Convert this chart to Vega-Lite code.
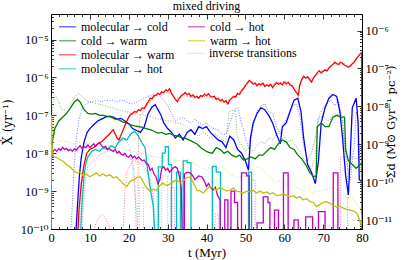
{
"$schema": "https://vega.github.io/schema/vega-lite/v6.json",
"width": 311, "height": 215,
"autosize": {"type": "none"},
"padding": {"left": 51, "top": 14, "right": 53, "bottom": 31},
"title": {"text": "mixed driving", "fontSize": 12, "fontWeight": "normal", "color": "#000", "offset": 1, "anchor": "middle", "font": "Liberation Serif"},
"config": {
 "view": {"stroke": "#000", "strokeWidth": 1},
 "font": "Liberation Serif",
 "axis": {"grid": false, "domain": false, "labelFont": "Liberation Serif, DejaVu Serif", "labelFontSize": 12.5, "labelColor": "#000", "tickColor": "#000", "tickWidth": 0.8, "titleFont": "Liberation Serif, DejaVu Serif", "titleFontSize": 13, "titleFontWeight": "normal", "titleColor": "#000", "labelFlush": false, "labelOverlap": false},
 "legend": {"labelFont": "Liberation Serif, DejaVu Serif", "labelFontSize": 12, "labelColor": "#000", "padding": 0}
},
"datasets": {
"fwdA": [
{"s":"mc","t":6.3,"v":5e-11},{"s":"mc","t":6.8,"v":3.98e-10},{"s":"mc","t":7.3,"v":2.51e-9},{"s":"mc","t":7.8,"v":7.94e-9},{"s":"mc","t":8.5,"v":2.0e-8},{"s":"mc","t":9.3,"v":3.55e-8},{"s":"mc","t":10,"v":4.47e-8},{"s":"mc","t":11,"v":5.62e-8},{"s":"mc","t":12,"v":7.08e-8},{"s":"mc","t":13,"v":7.94e-8},{"s":"mc","t":14,"v":8.91e-8},{"s":"mc","t":15,"v":9.55e-8},{"s":"mc","t":16,"v":8.91e-8},{"s":"mc","t":17,"v":7.94e-8},{"s":"mc","t":18,"v":8.32e-8},{"s":"mc","t":19,"v":7.08e-8},{"s":"mc","t":20,"v":6.03e-8},{"s":"mc","t":21,"v":4.47e-8},{"s":"mc","t":22,"v":3.98e-8},{"s":"mc","t":23,"v":3.55e-8},{"s":"mc","t":24,"v":5.01e-8},{"s":"mc","t":25,"v":1.12e-7},{"s":"mc","t":26,"v":1.66e-7},{"s":"mc","t":26.8,"v":1.91e-7},{"s":"mc","t":27.5,"v":1.41e-7},{"s":"mc","t":28.3,"v":1.0e-7},{"s":"mc","t":29,"v":6.31e-8},{"s":"mc","t":30,"v":4.47e-8},{"s":"mc","t":31,"v":3.55e-8},{"s":"mc","t":32,"v":2.51e-8},{"s":"mc","t":33,"v":3.16e-8},{"s":"mc","t":34,"v":2.24e-8},{"s":"mc","t":35,"v":3.55e-8},{"s":"mc","t":36,"v":4.17e-8},{"s":"mc","t":37,"v":3.16e-8},{"s":"mc","t":38,"v":5.01e-8},{"s":"mc","t":39,"v":4.47e-8},{"s":"mc","t":40,"v":5.01e-8},{"s":"mc","t":41,"v":3.55e-8},{"s":"mc","t":42,"v":2.82e-8},{"s":"mc","t":43,"v":2.24e-8},{"s":"mc","t":44,"v":2.0e-8},{"s":"mc","t":45,"v":1.41e-8},{"s":"mc","t":46,"v":2.82e-8},{"s":"mc","t":47,"v":2.24e-8},{"s":"mc","t":48,"v":1.26e-8},{"s":"mc","t":49,"v":1.0e-8},{"s":"mc","t":50,"v":6.31e-9},{"s":"mc","t":50.8,"v":3.55e-9},{"s":"mc","t":51.3,"v":2.51e-8},{"s":"mc","t":52,"v":6.31e-8},{"s":"mc","t":53,"v":1.12e-7},{"s":"mc","t":54,"v":1.58e-7},{"s":"mc","t":55,"v":1.41e-7},{"s":"mc","t":56,"v":1.0e-7},{"s":"mc","t":57,"v":6.31e-8},{"s":"mc","t":58,"v":3.16e-8},{"s":"mc","t":59,"v":1.78e-8},{"s":"mc","t":59.5,"v":5.01e-8},{"s":"mc","t":60.5,"v":6.31e-8},{"s":"mc","t":61.5,"v":1.26e-7},{"s":"mc","t":62.5,"v":2.51e-7},{"s":"mc","t":63.5,"v":2.82e-7},{"s":"mc","t":64.3,"v":1.26e-7},{"s":"mc","t":65,"v":2.51e-8},{"s":"mc","t":66,"v":5.01e-9},{"s":"mc","t":67,"v":3.16e-9},{"s":"mc","t":68,"v":1.58e-9},{"s":"mc","t":68.8,"v":6.31e-9},{"s":"mc","t":69.5,"v":6.31e-8},{"s":"mc","t":70.5,"v":1.58e-7},{"s":"mc","t":71.5,"v":2.82e-7},{"s":"mc","t":72.5,"v":3.55e-7},{"s":"mc","t":73.5,"v":3.16e-7},{"s":"mc","t":74.3,"v":1.26e-7},{"s":"mc","t":75,"v":2.51e-8},{"s":"mc","t":75.8,"v":2.51e-9},{"s":"mc","t":76.5,"v":7.94e-10},{"s":"mc","t":77,"v":1.0e-8},{"s":"mc","t":77.5,"v":1.58e-7},{"s":"mc","t":78.5,"v":2.82e-7},{"s":"mc","t":79,"v":6.31e-8},{"s":"mc","t":79.3,"v":2.0e-9},{"s":"mc","t":80,"v":1.78e-9},
{"s":"cw","t":0,"v":8.91e-9},{"s":"cw","t":0.5,"v":2.51e-8},{"s":"cw","t":1,"v":4.47e-8},{"s":"cw","t":2,"v":7.08e-8},{"s":"cw","t":3,"v":8.91e-8},{"s":"cw","t":4,"v":1.12e-7},{"s":"cw","t":5,"v":1.58e-7},{"s":"cw","t":6,"v":2.24e-7},{"s":"cw","t":6.8,"v":2.63e-7},{"s":"cw","t":7.5,"v":2.24e-7},{"s":"cw","t":8.5,"v":1.41e-7},{"s":"cw","t":9.5,"v":1.12e-7},{"s":"cw","t":10.5,"v":1.07e-7},{"s":"cw","t":11.5,"v":1.12e-7},{"s":"cw","t":12.5,"v":1.0e-7},{"s":"cw","t":13.5,"v":1.0e-7},{"s":"cw","t":14.5,"v":9.33e-8},{"s":"cw","t":15.5,"v":8.91e-8},{"s":"cw","t":16.5,"v":7.94e-8},{"s":"cw","t":17.5,"v":7.59e-8},{"s":"cw","t":18.5,"v":6.61e-8},{"s":"cw","t":19.5,"v":6.31e-8},{"s":"cw","t":20.5,"v":5.62e-8},{"s":"cw","t":21.5,"v":5.25e-8},{"s":"cw","t":22.5,"v":5.01e-8},{"s":"cw","t":23.5,"v":4.79e-8},{"s":"cw","t":24.5,"v":4.47e-8},{"s":"cw","t":25.5,"v":4.17e-8},{"s":"cw","t":26.5,"v":3.8e-8},{"s":"cw","t":27.5,"v":3.39e-8},{"s":"cw","t":28.5,"v":3.55e-8},{"s":"cw","t":29.5,"v":3.16e-8},{"s":"cw","t":30.5,"v":3.31e-8},{"s":"cw","t":31.5,"v":3.02e-8},{"s":"cw","t":32.5,"v":2.82e-8},{"s":"cw","t":33.5,"v":2.63e-8},{"s":"cw","t":34.5,"v":2.51e-8},{"s":"cw","t":35.5,"v":2.24e-8},{"s":"cw","t":36.5,"v":2.0e-8},{"s":"cw","t":37.5,"v":1.78e-8},{"s":"cw","t":38.5,"v":1.41e-8},{"s":"cw","t":39.5,"v":1.2e-8},{"s":"cw","t":40.5,"v":1.05e-8},{"s":"cw","t":41.5,"v":1.0e-8},{"s":"cw","t":42.5,"v":1.41e-8},{"s":"cw","t":43.5,"v":1.26e-8},{"s":"cw","t":44.5,"v":1.0e-8},{"s":"cw","t":45.5,"v":1.12e-8},{"s":"cw","t":46.5,"v":8.91e-9},{"s":"cw","t":47.5,"v":7.94e-9},{"s":"cw","t":48.5,"v":8.91e-9},{"s":"cw","t":49.5,"v":6.61e-9},{"s":"cw","t":50.5,"v":7.08e-9},{"s":"cw","t":51.5,"v":7.94e-9},{"s":"cw","t":52.5,"v":7.08e-9},{"s":"cw","t":53.5,"v":8.91e-9},{"s":"cw","t":54.5,"v":8.91e-9},{"s":"cw","t":55.5,"v":1.12e-8},{"s":"cw","t":56.5,"v":1.41e-8},{"s":"cw","t":57.5,"v":1.26e-8},{"s":"cw","t":58.5,"v":1.78e-8},{"s":"cw","t":59.5,"v":2.24e-8},{"s":"cw","t":60.5,"v":2.0e-8},{"s":"cw","t":61.5,"v":1.41e-8},{"s":"cw","t":62.5,"v":1.26e-8},{"s":"cw","t":63.5,"v":8.91e-9},{"s":"cw","t":64.5,"v":7.08e-9},{"s":"cw","t":65.5,"v":5.01e-9},{"s":"cw","t":66.5,"v":3.16e-9},{"s":"cw","t":67.5,"v":2.4e-9},{"s":"cw","t":68.2,"v":2.51e-9},{"s":"cw","t":68.5,"v":5.01e-8},{"s":"cw","t":69.5,"v":6.31e-8},{"s":"cw","t":70.5,"v":5.01e-8},{"s":"cw","t":71.5,"v":5.01e-8},{"s":"cw","t":72.5,"v":8.91e-8},{"s":"cw","t":73.5,"v":1.0e-7},{"s":"cw","t":74.5,"v":8.91e-8},{"s":"cw","t":75.5,"v":8.91e-8},{"s":"cw","t":75.8,"v":1.26e-8},{"s":"cw","t":76.5,"v":6.31e-9},{"s":"cw","t":77.5,"v":5.01e-9},{"s":"cw","t":78.5,"v":3.98e-9},{"s":"cw","t":79.5,"v":5.01e-9},{"s":"cw","t":80,"v":5.62e-9},
{"s":"mw","t":6.8,"v":5e-11},{"s":"mw","t":7.2,"v":3.16e-10},{"s":"mw","t":7.8,"v":1.58e-9},{"s":"mw","t":8.5,"v":5.01e-9},{"s":"mw","t":9.2,"v":1.0e-8},{"s":"mw","t":10,"v":1.26e-8},{"s":"mw","t":11,"v":1.41e-8},{"s":"mw","t":12,"v":1.78e-8},{"s":"mw","t":13,"v":2.0e-8},{"s":"mw","t":14,"v":2.51e-8},{"s":"mw","t":15,"v":3.16e-8},{"s":"mw","t":16,"v":4.17e-8},{"s":"mw","t":17,"v":2.51e-8},{"s":"mw","t":17.5,"v":2.24e-8},{"s":"mw","t":18.5,"v":3.98e-8},{"s":"mw","t":19.5,"v":7.08e-8},
{"s":"mw","t":20,"v":8.91e-8},{"s":"mw","t":20.5,"v":1.05e-7},{"s":"mw","t":21,"v":1.12e-7},{"s":"mw","t":21.5,"v":1.26e-7},{"s":"mw","t":22,"v":1.2e-7},{"s":"mw","t":22.5,"v":1.41e-7},{"s":"mw","t":23,"v":1.32e-7},{"s":"mw","t":23.5,"v":1.58e-7},{"s":"mw","t":24,"v":1.51e-7},{"s":"mw","t":24.5,"v":1.91e-7},{"s":"mw","t":25,"v":2.24e-7},{"s":"mw","t":25.5,"v":2.82e-7},{"s":"mw","t":26,"v":2.75e-7},{"s":"mw","t":26.5,"v":3.31e-7},{"s":"mw","t":27,"v":3.39e-7},{"s":"mw","t":27.5,"v":3.8e-7},{"s":"mw","t":28,"v":3.55e-7},{"s":"mw","t":28.5,"v":4.17e-7},{"s":"mw","t":29,"v":3.98e-7},{"s":"mw","t":29.5,"v":4.68e-7},{"s":"mw","t":30,"v":4.37e-7},{"s":"mw","t":30.5,"v":5.01e-7},{"s":"mw","t":31,"v":3.8e-7},{"s":"mw","t":31.5,"v":3.16e-7},{"s":"mw","t":32,"v":2.63e-7},{"s":"mw","t":32.5,"v":2.29e-7},{"s":"mw","t":33,"v":2.82e-7},{"s":"mw","t":33.5,"v":3.31e-7},{"s":"mw","t":34,"v":3.55e-7},{"s":"mw","t":34.5,"v":3.98e-7},{"s":"mw","t":35,"v":3.47e-7},{"s":"mw","t":35.5,"v":3.8e-7},{"s":"mw","t":36,"v":3.16e-7},{"s":"mw","t":36.5,"v":3.47e-7},{"s":"mw","t":37,"v":2.95e-7},{"s":"mw","t":37.5,"v":3.16e-7},{"s":"mw","t":38,"v":2.82e-7},{"s":"mw","t":38.5,"v":3.31e-7},{"s":"mw","t":39,"v":3.16e-7},{"s":"mw","t":39.5,"v":3.63e-7},{"s":"mw","t":40,"v":3.31e-7},{"s":"mw","t":40.5,"v":3.72e-7},{"s":"mw","t":41,"v":3.16e-7},{"s":"mw","t":41.5,"v":3.02e-7},{"s":"mw","t":42,"v":3.16e-7},{"s":"mw","t":42.5,"v":2.63e-7},{"s":"mw","t":43,"v":2.82e-7},{"s":"mw","t":43.5,"v":2.4e-7},{"s":"mw","t":44,"v":2.63e-7},{"s":"mw","t":44.5,"v":2.24e-7},{"s":"mw","t":45,"v":2.4e-7},{"s":"mw","t":45.5,"v":2.0e-7},{"s":"mw","t":46,"v":2.51e-7},{"s":"mw","t":46.5,"v":2.82e-7},{"s":"mw","t":47,"v":3.16e-7},{"s":"mw","t":47.5,"v":3.02e-7},{"s":"mw","t":48,"v":3.8e-7},{"s":"mw","t":48.5,"v":3.55e-7},{"s":"mw","t":49,"v":4.47e-7},{"s":"mw","t":49.5,"v":5.01e-7},{"s":"mw","t":50,"v":6.03e-7},{"s":"mw","t":50.5,"v":7.08e-7},{"s":"mw","t":51,"v":8.32e-7},{"s":"mw","t":51.5,"v":7.59e-7},{"s":"mw","t":52,"v":6.61e-7},{"s":"mw","t":52.5,"v":7.08e-7},{"s":"mw","t":53,"v":6.03e-7},{"s":"mw","t":53.5,"v":6.76e-7},{"s":"mw","t":54,"v":6.31e-7},{"s":"mw","t":54.5,"v":7.08e-7},{"s":"mw","t":55,"v":5.75e-7},{"s":"mw","t":55.5,"v":6.31e-7},{"s":"mw","t":56,"v":5.89e-7},{"s":"mw","t":56.5,"v":6.61e-7},{"s":"mw","t":57,"v":5.37e-7},{"s":"mw","t":57.5,"v":6.31e-7},{"s":"mw","t":58,"v":7.24e-7},{"s":"mw","t":58.5,"v":6.61e-7},{"s":"mw","t":59,"v":7.08e-7},{"s":"mw","t":59.5,"v":6.31e-7},{"s":"mw","t":60,"v":7.59e-7},{"s":"mw","t":60.5,"v":6.76e-7},{"s":"mw","t":61,"v":7.41e-7},{"s":"mw","t":61.5,"v":6.31e-7},{"s":"mw","t":62,"v":6.03e-7},{"s":"mw","t":62.5,"v":5.01e-7},{"s":"mw","t":63,"v":4.17e-7},{"s":"mw","t":63.6,"v":3.39e-7},{"s":"mw","t":64,"v":6.31e-7},{"s":"mw","t":64.5,"v":8.91e-7},{"s":"mw","t":65,"v":1.07e-6},{"s":"mw","t":65.5,"v":9.55e-7},{"s":"mw","t":66,"v":1.05e-6},{"s":"mw","t":66.5,"v":8.91e-7},{"s":"mw","t":67,"v":7.59e-7},{"s":"mw","t":67.5,"v":9.55e-7},{"s":"mw","t":68,"v":1.12e-6},{"s":"mw","t":68.5,"v":1.32e-6},{"s":"mw","t":69,"v":1.51e-6},{"s":"mw","t":69.5,"v":1.32e-6},{"s":"mw","t":70,"v":1.45e-6},{"s":"mw","t":70.5,"v":1.58e-6},{"s":"mw","t":71,"v":1.48e-6},{"s":"mw","t":71.5,"v":1.78e-6},{"s":"mw","t":72,"v":2.0e-6},{"s":"mw","t":72.5,"v":2.19e-6},{"s":"mw","t":73,"v":2.51e-6},{"s":"mw","t":73.5,"v":2.29e-6},{"s":"mw","t":74,"v":2.19e-6},{"s":"mw","t":74.5,"v":2.51e-6},{"s":"mw","t":75,"v":2.34e-6},{"s":"mw","t":75.5,"v":2.09e-6},{"s":"mw","t":76,"v":2.0e-6},{"s":"mw","t":76.5,"v":1.86e-6},{"s":"mw","t":77,"v":2.0e-6},{"s":"mw","t":77.5,"v":2.29e-6},{"s":"mw","t":78,"v":2.51e-6},{"s":"mw","t":78.5,"v":3.02e-6},{"s":"mw","t":79,"v":3.55e-6},{"s":"mw","t":79.5,"v":4.17e-6},{"s":"mw","t":79.9,"v":4.47e-6},{"s":"mw","t":80,"v":3.16e-11},
{"s":"mh","g":1,"t":7.5,"v":5e-11},{"s":"mh","g":1,"t":8,"v":5.01e-10},{"s":"mh","g":1,"t":8.5,"v":2.51e-9},{"s":"mh","g":1,"t":9,"v":5.62e-9},{"s":"mh","g":1,"t":9.5,"v":7.94e-9},{"s":"mh","g":1,"t":10.5,"v":1.12e-8},{"s":"mh","g":1,"t":11.5,"v":1.26e-8},{"s":"mh","g":1,"t":12.5,"v":1.12e-8},{"s":"mh","g":1,"t":13.5,"v":1.41e-8},{"s":"mh","g":1,"t":14.5,"v":1.26e-8},{"s":"mh","g":1,"t":15.5,"v":1.58e-8},{"s":"mh","g":1,"t":16.5,"v":1.41e-8},{"s":"mh","g":1,"t":17.5,"v":2.0e-8},{"s":"mh","g":1,"t":18.5,"v":2.51e-8},{"s":"mh","g":1,"t":19.5,"v":2.24e-8},{"s":"mh","g":1,"t":20.5,"v":3.16e-8},{"s":"mh","g":1,"t":21.5,"v":3.8e-8},{"s":"mh","g":1,"t":22.5,"v":2.82e-8},{"s":"mh","g":1,"t":23.5,"v":1.78e-8},{"s":"mh","g":1,"t":24.2,"v":1.41e-8},{"s":"mh","g":1,"t":24.8,"v":3.98e-9},{"s":"mh","g":1,"t":25.5,"v":1.26e-9},{"s":"mh","g":1,"t":26.3,"v":3.98e-10},{"s":"mh","g":1,"t":26.8,"v":5e-11},
{"s":"mh","g":2,"t":27.6,"v":5e-11},{"s":"mh","g":2,"t":27.6,"v":4.37e-9},{"s":"mh","g":2,"t":28.6,"v":4.37e-9},{"s":"mh","g":2,"t":28.6,"v":1.0e-8},{"s":"mh","g":2,"t":29.4,"v":1.0e-8},{"s":"mh","g":2,"t":29.4,"v":1.48e-8},{"s":"mh","g":2,"t":30.2,"v":1.48e-8},{"s":"mh","g":2,"t":30.2,"v":5.01e-9},{"s":"mh","g":2,"t":31,"v":5.01e-9},{"s":"mh","g":2,"t":31,"v":5e-11},
{"s":"mh","g":3,"t":32.3,"v":5e-11},{"s":"mh","g":3,"t":32.3,"v":3.16e-9},{"s":"mh","g":3,"t":33.3,"v":3.16e-9},{"s":"mh","g":3,"t":33.3,"v":5e-11},
{"s":"mh","g":4,"t":34,"v":5e-11},{"s":"mh","g":4,"t":34,"v":6.31e-9},{"s":"mh","g":4,"t":35,"v":6.31e-9},{"s":"mh","g":4,"t":35,"v":5.62e-9},{"s":"mh","g":4,"t":36,"v":5.62e-9},{"s":"mh","g":4,"t":36,"v":5e-11},
{"s":"mh","g":5,"t":41.5,"v":5e-11},{"s":"mh","g":5,"t":41.5,"v":4.47e-9},{"s":"mh","g":5,"t":42.5,"v":4.47e-9},{"s":"mh","g":5,"t":42.5,"v":3.16e-9},{"s":"mh","g":5,"t":43.6,"v":3.16e-9},{"s":"mh","g":5,"t":43.6,"v":5e-11},
{"s":"mh","g":6,"t":50.8,"v":5e-11},{"s":"mh","g":6,"t":50.8,"v":3.16e-9},{"s":"mh","g":6,"t":51.6,"v":3.16e-9},{"s":"mh","g":6,"t":51.6,"v":5e-11}
],
"fwdB": [
{"s":"ch","g":1,"t":0,"v":6.31e-9},{"s":"ch","g":1,"t":0.5,"v":1.12e-8},{"s":"ch","g":1,"t":1,"v":1.26e-8},{"s":"ch","g":1,"t":1.5,"v":1.12e-8},{"s":"ch","g":1,"t":2,"v":1.32e-8},{"s":"ch","g":1,"t":2.5,"v":1.2e-8},{"s":"ch","g":1,"t":3,"v":1.41e-8},{"s":"ch","g":1,"t":3.5,"v":1.26e-8},{"s":"ch","g":1,"t":4,"v":1.35e-8},{"s":"ch","g":1,"t":4.5,"v":1.17e-8},{"s":"ch","g":1,"t":5,"v":1.26e-8},{"s":"ch","g":1,"t":5.5,"v":1.12e-8},{"s":"ch","g":1,"t":6,"v":1.32e-8},{"s":"ch","g":1,"t":6.5,"v":1.2e-8},{"s":"ch","g":1,"t":7,"v":1.41e-8},{"s":"ch","g":1,"t":7.5,"v":1.58e-8},{"s":"ch","g":1,"t":8,"v":1.32e-8},{"s":"ch","g":1,"t":8.5,"v":1.51e-8},{"s":"ch","g":1,"t":9,"v":1.41e-8},{"s":"ch","g":1,"t":9.5,"v":1.66e-8},{"s":"ch","g":1,"t":10,"v":1.41e-8},{"s":"ch","g":1,"t":10.5,"v":1.58e-8},{"s":"ch","g":1,"t":11,"v":1.78e-8},{"s":"ch","g":1,"t":11.5,"v":1.51e-8},{"s":"ch","g":1,"t":12,"v":1.74e-8},{"s":"ch","g":1,"t":12.5,"v":1.91e-8},{"s":"ch","g":1,"t":13,"v":1.58e-8},{"s":"ch","g":1,"t":13.5,"v":1.41e-8},{"s":"ch","g":1,"t":14,"v":1.51e-8},{"s":"ch","g":1,"t":14.5,"v":1.26e-8},{"s":"ch","g":1,"t":15,"v":1.32e-8},{"s":"ch","g":1,"t":15.5,"v":1.2e-8},{"s":"ch","g":1,"t":16,"v":1.12e-8},{"s":"ch","g":1,"t":16.5,"v":1.26e-8},{"s":"ch","g":1,"t":17,"v":1.0e-8},{"s":"ch","g":1,"t":17.5,"v":1.12e-8},{"s":"ch","g":1,"t":18,"v":9.55e-9},{"s":"ch","g":1,"t":18.5,"v":8.91e-9},{"s":"ch","g":1,"t":19,"v":1.0e-8},{"s":"ch","g":1,"t":19.5,"v":8.32e-9},{"s":"ch","g":1,"t":20,"v":7.94e-9},{"s":"ch","g":1,"t":20.5,"v":8.91e-9},{"s":"ch","g":1,"t":21,"v":7.59e-9},{"s":"ch","g":1,"t":21.5,"v":8.32e-9},{"s":"ch","g":1,"t":22,"v":7.08e-9},{"s":"ch","g":1,"t":22.5,"v":7.94e-9},{"s":"ch","g":1,"t":23,"v":7.08e-9},{"s":"ch","g":1,"t":23.5,"v":6.31e-9},{"s":"ch","g":1,"t":24,"v":6.61e-9},{"s":"ch","g":1,"t":24.5,"v":5.25e-9},{"s":"ch","g":1,"t":25,"v":5.01e-9},{"s":"ch","g":1,"t":25.5,"v":3.55e-9},{"s":"ch","g":1,"t":26,"v":3.98e-9},{"s":"ch","g":1,"t":26.5,"v":2.82e-9},{"s":"ch","g":1,"t":27,"v":2.4e-9},{"s":"ch","g":1,"t":27.5,"v":1.58e-9},{"s":"ch","g":1,"t":28,"v":2.0e-9},{"s":"ch","g":1,"t":28.5,"v":3.98e-9},{"s":"ch","g":1,"t":29,"v":4.37e-9},{"s":"ch","g":1,"t":29.5,"v":3.55e-9},{"s":"ch","g":1,"t":30,"v":3.98e-9},{"s":"ch","g":1,"t":30.5,"v":3.16e-9},{"s":"ch","g":1,"t":31,"v":3.55e-9},{"s":"ch","g":1,"t":31.5,"v":4.17e-9},{"s":"ch","g":1,"t":32,"v":4.37e-9},{"s":"ch","g":1,"t":32.5,"v":3.98e-9},{"s":"ch","g":1,"t":33,"v":2.51e-9},{"s":"ch","g":1,"t":33.5,"v":1.26e-9},{"s":"ch","g":1,"t":33.8,"v":5e-11},
{"s":"ch","g":2,"t":34.3,"v":5e-11},{"s":"ch","g":2,"t":34.3,"v":2.82e-9},{"s":"ch","g":2,"t":35,"v":3.16e-9},{"s":"ch","g":2,"t":35.8,"v":3.02e-9},{"s":"ch","g":2,"t":36.5,"v":2.51e-9},{"s":"ch","g":2,"t":37,"v":2.0e-9},{"s":"ch","g":2,"t":37.5,"v":2.24e-9},{"s":"ch","g":2,"t":38,"v":2.51e-9},{"s":"ch","g":2,"t":38.8,"v":2.4e-9},{"s":"ch","g":2,"t":39.5,"v":1.78e-9},{"s":"ch","g":2,"t":40,"v":1.32e-9},{"s":"ch","g":2,"t":40.5,"v":1.58e-9},{"s":"ch","g":2,"t":41,"v":1.26e-9},{"s":"ch","g":2,"t":41.7,"v":1.07e-9},{"s":"ch","g":2,"t":42.3,"v":1.26e-9},{"s":"ch","g":2,"t":42.8,"v":7.94e-10},{"s":"ch","g":2,"t":43.5,"v":5.89e-10},{"s":"ch","g":2,"t":43.5,"v":5e-11},
{"s":"ch","g":3,"t":44.7,"v":5e-11},{"s":"ch","g":3,"t":44.7,"v":5.89e-10},{"s":"ch","g":3,"t":45.5,"v":5.89e-10},{"s":"ch","g":3,"t":45.5,"v":5e-11},
{"s":"ch","g":4,"t":46.3,"v":5e-11},{"s":"ch","g":4,"t":46.3,"v":1.0e-9},{"s":"ch","g":4,"t":47.2,"v":1.0e-9},{"s":"ch","g":4,"t":47.2,"v":5.01e-10},{"s":"ch","g":4,"t":48,"v":5.01e-10},{"s":"ch","g":4,"t":48,"v":5e-11},
{"s":"ch","g":5,"t":49,"v":5e-11},{"s":"ch","g":5,"t":49,"v":3.02e-9},{"s":"ch","g":5,"t":50.3,"v":3.02e-9},{"s":"ch","g":5,"t":50.3,"v":2.51e-9},{"s":"ch","g":5,"t":51,"v":2.51e-9},{"s":"ch","g":5,"t":51,"v":5e-11},
{"s":"ch","g":6,"t":53,"v":5e-11},{"s":"ch","g":6,"t":53,"v":1.45e-10},{"s":"ch","g":6,"t":54.6,"v":1.45e-10},{"s":"ch","g":6,"t":54.6,"v":7.08e-10},{"s":"ch","g":6,"t":55.8,"v":7.08e-10},{"s":"ch","g":6,"t":55.8,"v":5.01e-10},{"s":"ch","g":6,"t":56.3,"v":5.01e-10},{"s":"ch","g":6,"t":56.3,"v":5e-11},
{"s":"ch","g":7,"t":57.5,"v":5e-11},{"s":"ch","g":7,"t":57.5,"v":3.16e-10},{"s":"ch","g":7,"t":58.5,"v":3.16e-10},{"s":"ch","g":7,"t":58.5,"v":5e-11},
{"s":"ch","g":8,"t":59.8,"v":5e-11},{"s":"ch","g":8,"t":59.8,"v":3.02e-9},{"s":"ch","g":8,"t":61,"v":3.02e-9},{"s":"ch","g":8,"t":61,"v":5e-11},
{"s":"ch","g":9,"t":62.5,"v":5e-11},{"s":"ch","g":9,"t":62.5,"v":1.74e-10},{"s":"ch","g":9,"t":63.6,"v":1.74e-10},{"s":"ch","g":9,"t":63.6,"v":5e-11},
{"s":"ch","g":10,"t":65.5,"v":5e-11},{"s":"ch","g":10,"t":65.5,"v":2.09e-10},{"s":"ch","g":10,"t":67.3,"v":2.09e-10},{"s":"ch","g":10,"t":67.3,"v":5e-11},
{"s":"ch","g":11,"t":68.8,"v":5e-11},{"s":"ch","g":11,"t":68.8,"v":2.88e-10},{"s":"ch","g":11,"t":70.5,"v":2.88e-10},{"s":"ch","g":11,"t":70.5,"v":5e-11},
{"s":"ch","g":12,"t":72.6,"v":5e-11},{"s":"ch","g":12,"t":72.6,"v":3.02e-9},{"s":"ch","g":12,"t":73.8,"v":3.02e-9},{"s":"ch","g":12,"t":73.8,"v":5e-11},
{"s":"wh","t":0,"v":5e-11},{"s":"wh","t":0.1,"v":1.0e-7},{"s":"wh","t":0.3,"v":1.0e-8},{"s":"wh","t":0.8,"v":7.94e-9},{"s":"wh","t":1.5,"v":7.59e-9},{"s":"wh","t":2.5,"v":6.61e-9},{"s":"wh","t":3.2,"v":6.03e-9},{"s":"wh","t":4,"v":5.01e-9},{"s":"wh","t":4.9,"v":4.37e-9},{"s":"wh","t":5.7,"v":3.55e-9},{"s":"wh","t":6.6,"v":3.02e-9},{"s":"wh","t":7.5,"v":3.16e-9},{"s":"wh","t":8.2,"v":2.63e-9},{"s":"wh","t":9,"v":2.82e-9},{"s":"wh","t":10,"v":2.4e-9},{"s":"wh","t":10.8,"v":2.69e-9},{"s":"wh","t":11.7,"v":3.02e-9},{"s":"wh","t":12.5,"v":2.51e-9},{"s":"wh","t":13.3,"v":2.82e-9},{"s":"wh","t":14.2,"v":2.51e-9},{"s":"wh","t":15.2,"v":2.69e-9},{"s":"wh","t":16,"v":2.24e-9},{"s":"wh","t":16.8,"v":2.4e-9},{"s":"wh","t":17.7,"v":1.95e-9},{"s":"wh","t":18.5,"v":1.58e-9},{"s":"wh","t":19.5,"v":1.32e-9},{"s":"wh","t":20.3,"v":1.78e-9},{"s":"wh","t":21.2,"v":2.0e-9},{"s":"wh","t":22,"v":2.24e-9},{"s":"wh","t":22.9,"v":2.4e-9},{"s":"wh","t":23.7,"v":1.78e-9},{"s":"wh","t":24.5,"v":1.26e-9},{"s":"wh","t":25.5,"v":9.77e-10},{"s":"wh","t":26.3,"v":1.12e-9},{"s":"wh","t":27.2,"v":1.05e-9},{"s":"wh","t":28,"v":1.41e-9},{"s":"wh","t":28.8,"v":1.62e-9},{"s":"wh","t":29.7,"v":1.41e-9},{"s":"wh","t":30.5,"v":1.51e-9},{"s":"wh","t":31.4,"v":1.78e-9},{"s":"wh","t":32.3,"v":1.95e-9},{"s":"wh","t":33.2,"v":1.66e-9},{"s":"wh","t":34,"v":1.91e-9},{"s":"wh","t":34.9,"v":2.24e-9},{"s":"wh","t":35.8,"v":2.4e-9},{"s":"wh","t":36.7,"v":1.58e-9},{"s":"wh","t":37.5,"v":1.07e-9},{"s":"wh","t":38.4,"v":1.0e-9},{"s":"wh","t":39.2,"v":8.91e-10},{"s":"wh","t":40,"v":1.12e-9},{"s":"wh","t":40.9,"v":1.32e-9},{"s":"wh","t":41.8,"v":1.2e-9},{"s":"wh","t":42.6,"v":1.05e-9},{"s":"wh","t":43.5,"v":1.26e-9},{"s":"wh","t":44.3,"v":1.12e-9},{"s":"wh","t":45.2,"v":1.0e-9},{"s":"wh","t":46,"v":1.07e-9},{"s":"wh","t":46.9,"v":1.2e-9},{"s":"wh","t":47.7,"v":1.0e-9},{"s":"wh","t":48.6,"v":9.55e-10},{"s":"wh","t":49.5,"v":8.91e-10},{"s":"wh","t":50.3,"v":1.0e-9},{"s":"wh","t":51.2,"v":9.55e-10},{"s":"wh","t":52,"v":1.05e-9},{"s":"wh","t":52.9,"v":8.91e-10},{"s":"wh","t":53.7,"v":1.0e-9},{"s":"wh","t":54.6,"v":8.91e-10},{"s":"wh","t":55.5,"v":9.55e-10},{"s":"wh","t":56.3,"v":8.32e-10},{"s":"wh","t":57.2,"v":8.91e-10},{"s":"wh","t":58.1,"v":7.59e-10},{"s":"wh","t":59,"v":7.94e-10},{"s":"wh","t":59.8,"v":8.32e-10},{"s":"wh","t":60.7,"v":7.59e-10},{"s":"wh","t":61.5,"v":7.08e-10},{"s":"wh","t":62.4,"v":7.59e-10},{"s":"wh","t":63.2,"v":6.61e-10},{"s":"wh","t":64,"v":7.08e-10},{"s":"wh","t":64.9,"v":5.89e-10},{"s":"wh","t":65.8,"v":6.31e-10},{"s":"wh","t":66.6,"v":5.25e-10},{"s":"wh","t":67.5,"v":5.01e-10},{"s":"wh","t":68.3,"v":3.89e-10},{"s":"wh","t":69.2,"v":4.47e-10},{"s":"wh","t":70,"v":5.01e-10},{"s":"wh","t":70.9,"v":5.25e-10},{"s":"wh","t":71.8,"v":4.79e-10},{"s":"wh","t":72.6,"v":4.17e-10},{"s":"wh","t":73.5,"v":3.8e-10},{"s":"wh","t":74.3,"v":3.98e-10},{"s":"wh","t":75.2,"v":3.55e-10},{"s":"wh","t":76,"v":3.31e-10},{"s":"wh","t":76.9,"v":3.16e-10},{"s":"wh","t":77.7,"v":3.02e-10},{"s":"wh","t":78.7,"v":2.63e-10},{"s":"wh","t":79.3,"v":1.78e-10},{"s":"wh","t":79.8,"v":1.26e-10},{"s":"wh","t":80,"v":2.51e-10}
],
"invA": [
{"s":"mc","t":5.0,"v":5e-11},{"s":"mc","t":5.5,"v":5.01e-10},{"s":"mc","t":6,"v":5.01e-9},{"s":"mc","t":6.5,"v":2.51e-8},{"s":"mc","t":7.2,"v":7.94e-8},{"s":"mc","t":8,"v":1.41e-7},{"s":"mc","t":9,"v":2.0e-7},{"s":"mc","t":10,"v":2.24e-7},{"s":"mc","t":11,"v":2.34e-7},{"s":"mc","t":12,"v":2.51e-7},{"s":"mc","t":13,"v":2.24e-7},{"s":"mc","t":14,"v":2.51e-7},{"s":"mc","t":15,"v":2.4e-7},{"s":"mc","t":16,"v":2.51e-7},{"s":"mc","t":17,"v":2.24e-7},{"s":"mc","t":18,"v":2.51e-7},{"s":"mc","t":19,"v":2.4e-7},{"s":"mc","t":20,"v":2.09e-7},{"s":"mc","t":21,"v":2.0e-7},{"s":"mc","t":22,"v":2.24e-7},{"s":"mc","t":23,"v":2.51e-7},{"s":"mc","t":24,"v":2.82e-7},{"s":"mc","t":25,"v":3.16e-7},{"s":"mc","t":26,"v":3.55e-7},{"s":"mc","t":27,"v":3.31e-7},{"s":"mc","t":28,"v":3.16e-7},{"s":"mc","t":29,"v":2.51e-7},{"s":"mc","t":30,"v":1.78e-7},{"s":"mc","t":31,"v":1.12e-7},{"s":"mc","t":32,"v":7.08e-8},{"s":"mc","t":33,"v":7.94e-8},{"s":"mc","t":34,"v":8.91e-8},{"s":"mc","t":35,"v":7.08e-8},{"s":"mc","t":36,"v":6.31e-8},{"s":"mc","t":37,"v":7.94e-8},{"s":"mc","t":38,"v":6.31e-8},{"s":"mc","t":39,"v":5.62e-8},{"s":"mc","t":40,"v":6.31e-8},{"s":"mc","t":41,"v":5.01e-8},{"s":"mc","t":42,"v":4.47e-8},{"s":"mc","t":43,"v":3.98e-8},{"s":"mc","t":44,"v":3.16e-8},{"s":"mc","t":45,"v":3.16e-8},{"s":"mc","t":46,"v":6.31e-8},{"s":"mc","t":47,"v":1.26e-7},{"s":"mc","t":48,"v":1.58e-7},{"s":"mc","t":49,"v":6.31e-8},{"s":"mc","t":50,"v":2.51e-8},{"s":"mc","t":51,"v":1.26e-8},{"s":"mc","t":52,"v":5.01e-8},{"s":"mc","t":53,"v":1.26e-7},{"s":"mc","t":54,"v":1.78e-7},{"s":"mc","t":55,"v":2.0e-7},{"s":"mc","t":56,"v":1.26e-7},{"s":"mc","t":57,"v":1.12e-7},{"s":"mc","t":58,"v":5.01e-8},{"s":"mc","t":59,"v":3.16e-8},{"s":"mc","t":60,"v":6.31e-8},{"s":"mc","t":61,"v":1.0e-7},{"s":"mc","t":62,"v":1.78e-7},{"s":"mc","t":63,"v":2.0e-7},{"s":"mc","t":64,"v":1.0e-7},{"s":"mc","t":65,"v":1.58e-8},{"s":"mc","t":66,"v":6.31e-9},{"s":"mc","t":67,"v":1.0e-8},{"s":"mc","t":68,"v":2.51e-8},{"s":"mc","t":69,"v":1.0e-7},{"s":"mc","t":70,"v":1.58e-7},{"s":"mc","t":71,"v":2.0e-7},{"s":"mc","t":72,"v":2.51e-7},{"s":"mc","t":73,"v":1.78e-7},{"s":"mc","t":74,"v":2.51e-7},{"s":"mc","t":75,"v":6.31e-8},{"s":"mc","t":76,"v":6.31e-9},{"s":"mc","t":77,"v":2.0e-9},{"s":"mc","t":78,"v":1.58e-8},{"s":"mc","t":78.5,"v":1.26e-7},{"s":"mc","t":79,"v":7.94e-8},{"s":"mc","t":79.5,"v":3.98e-9},{"s":"mc","t":80,"v":3.16e-9},
{"s":"cw","t":0,"v":5e-11},{"s":"cw","t":0.2,"v":1.0e-7},{"s":"cw","t":0.6,"v":2.51e-7},{"s":"cw","t":1.2,"v":3.31e-7},{"s":"cw","t":1.8,"v":2.51e-7},{"s":"cw","t":2.5,"v":1.58e-7},{"s":"cw","t":3.2,"v":1.32e-7},{"s":"cw","t":4,"v":1.58e-7},{"s":"cw","t":5,"v":2.0e-7},{"s":"cw","t":6,"v":2.82e-7},{"s":"cw","t":7,"v":3.8e-7},{"s":"cw","t":8,"v":3.16e-7},{"s":"cw","t":9,"v":2.51e-7},{"s":"cw","t":10,"v":2.24e-7},{"s":"cw","t":11,"v":2.14e-7},{"s":"cw","t":12,"v":2.0e-7},{"s":"cw","t":13,"v":1.91e-7},{"s":"cw","t":14,"v":1.78e-7},{"s":"cw","t":15,"v":1.58e-7},{"s":"cw","t":16,"v":1.58e-7},{"s":"cw","t":17,"v":1.41e-7},{"s":"cw","t":18,"v":1.35e-7},{"s":"cw","t":19,"v":1.26e-7},{"s":"cw","t":20,"v":1.2e-7},{"s":"cw","t":21,"v":1.12e-7},{"s":"cw","t":22,"v":1.12e-7},{"s":"cw","t":23,"v":1.05e-7},{"s":"cw","t":24,"v":1.0e-7},{"s":"cw","t":25,"v":9.55e-8},{"s":"cw","t":26,"v":8.91e-8},{"s":"cw","t":27,"v":8.32e-8},{"s":"cw","t":28,"v":7.94e-8},{"s":"cw","t":29,"v":7.59e-8},{"s":"cw","t":30,"v":7.08e-8},{"s":"cw","t":31,"v":7.08e-8},{"s":"cw","t":32,"v":6.31e-8},{"s":"cw","t":33,"v":6.31e-8},{"s":"cw","t":34,"v":5.62e-8},{"s":"cw","t":35,"v":5.01e-8},{"s":"cw","t":36,"v":3.98e-8},{"s":"cw","t":37,"v":3.16e-8},{"s":"cw","t":38,"v":2.82e-8},{"s":"cw","t":39,"v":3.55e-8},{"s":"cw","t":40,"v":3.16e-8},{"s":"cw","t":41,"v":2.51e-8},{"s":"cw","t":42,"v":3.16e-8},{"s":"cw","t":43,"v":2.82e-8},{"s":"cw","t":44,"v":2.24e-8},{"s":"cw","t":45,"v":2.0e-8},{"s":"cw","t":45.8,"v":1.26e-7},{"s":"cw","t":47.5,"v":1.41e-7},{"s":"cw","t":47.8,"v":3.16e-8},{"s":"cw","t":48.5,"v":2.0e-8},{"s":"cw","t":50,"v":1.12e-8},{"s":"cw","t":51,"v":1.41e-8},{"s":"cw","t":52,"v":1.12e-8},{"s":"cw","t":53,"v":1.58e-8},{"s":"cw","t":54,"v":2.0e-8},{"s":"cw","t":55,"v":1.78e-8},{"s":"cw","t":56,"v":2.51e-8},{"s":"cw","t":57,"v":2.24e-8},{"s":"cw","t":58,"v":3.16e-8},{"s":"cw","t":59,"v":3.98e-8},{"s":"cw","t":60,"v":2.82e-8},{"s":"cw","t":61,"v":2.0e-8},{"s":"cw","t":62,"v":2.24e-8},{"s":"cw","t":63,"v":1.58e-8},{"s":"cw","t":64,"v":1.12e-8},{"s":"cw","t":65,"v":7.08e-9},{"s":"cw","t":66,"v":5.62e-9},{"s":"cw","t":67,"v":3.98e-9},{"s":"cw","t":68,"v":7.94e-9},{"s":"cw","t":68.6,"v":7.94e-8},{"s":"cw","t":70,"v":1.0e-7},{"s":"cw","t":71,"v":7.08e-8},{"s":"cw","t":72,"v":7.94e-8},{"s":"cw","t":73,"v":1.12e-7},{"s":"cw","t":74,"v":1.0e-7},{"s":"cw","t":75,"v":7.94e-8},{"s":"cw","t":75.5,"v":1.26e-8},{"s":"cw","t":76.5,"v":6.31e-9},{"s":"cw","t":77.5,"v":7.94e-9},{"s":"cw","t":78.5,"v":7.08e-9},{"s":"cw","t":79.5,"v":7.94e-9},{"s":"cw","t":80,"v":7.94e-9},
{"s":"mw","g":1,"t":10.8,"v":5e-11},{"s":"mw","g":1,"t":11.5,"v":1.41e-10},{"s":"mw","g":1,"t":12.5,"v":2.09e-10},{"s":"mw","g":1,"t":13.3,"v":2.4e-10},{"s":"mw","g":1,"t":14,"v":2.0e-10},{"s":"mw","g":1,"t":14.8,"v":1.26e-10},{"s":"mw","g":1,"t":15.5,"v":5e-11},
{"s":"mw","g":2,"t":18.5,"v":5e-11},{"s":"mw","g":2,"t":19,"v":1.0e-9},{"s":"mw","g":2,"t":19.5,"v":3.16e-9},{"s":"mw","g":2,"t":20,"v":3.98e-9},{"s":"mw","g":2,"t":20.5,"v":5.01e-9},{"s":"mw","g":2,"t":21,"v":6.31e-9},{"s":"mw","g":2,"t":21.5,"v":2.51e-9},{"s":"mw","g":2,"t":22,"v":5e-11},
{"s":"mw","g":3,"t":22.3,"v":5e-11},{"s":"mw","g":3,"t":22.5,"v":3.16e-8},{"s":"mw","g":3,"t":23,"v":1.0e-7},{"s":"mw","g":3,"t":24,"v":1.41e-7},{"s":"mw","g":3,"t":25,"v":2.0e-7},{"s":"mw","g":3,"t":26,"v":2.82e-7},{"s":"mw","g":3,"t":27,"v":3.31e-7},{"s":"mw","g":3,"t":28,"v":3.55e-7},{"s":"mw","g":3,"t":29,"v":3.8e-7},{"s":"mw","g":3,"t":30,"v":3.98e-7},{"s":"mw","g":3,"t":31,"v":3.55e-7},{"s":"mw","g":3,"t":32,"v":2.82e-7},{"s":"mw","g":3,"t":33,"v":2.82e-7},{"s":"mw","g":3,"t":34,"v":3.31e-7},{"s":"mw","g":3,"t":35,"v":3.16e-7},{"s":"mw","g":3,"t":36,"v":3.02e-7},{"s":"mw","g":3,"t":37,"v":3.16e-7},{"s":"mw","g":3,"t":38,"v":2.82e-7},{"s":"mw","g":3,"t":39,"v":3.16e-7},{"s":"mw","g":3,"t":40,"v":3.16e-7},{"s":"mw","g":3,"t":41,"v":2.82e-7},{"s":"mw","g":3,"t":42,"v":2.63e-7},{"s":"mw","g":3,"t":43,"v":2.51e-7},{"s":"mw","g":3,"t":44,"v":2.24e-7},{"s":"mw","g":3,"t":45,"v":2.4e-7},{"s":"mw","g":3,"t":46,"v":2.63e-7},{"s":"mw","g":3,"t":47,"v":3.16e-7},{"s":"mw","g":3,"t":48,"v":3.8e-7},{"s":"mw","g":3,"t":49,"v":4.47e-7},{"s":"mw","g":3,"t":50,"v":6.31e-7},{"s":"mw","g":3,"t":51,"v":7.94e-7},{"s":"mw","g":3,"t":52,"v":7.59e-7},{"s":"mw","g":3,"t":53,"v":6.61e-7},{"s":"mw","g":3,"t":54,"v":7.08e-7},{"s":"mw","g":3,"t":55,"v":6.31e-7},{"s":"mw","g":3,"t":56,"v":6.61e-7},{"s":"mw","g":3,"t":57,"v":6.31e-7},{"s":"mw","g":3,"t":58,"v":7.59e-7},{"s":"mw","g":3,"t":59,"v":7.08e-7},{"s":"mw","g":3,"t":60,"v":7.94e-7},{"s":"mw","g":3,"t":61,"v":7.59e-7},{"s":"mw","g":3,"t":62,"v":6.61e-7},{"s":"mw","g":3,"t":63,"v":5.01e-7},{"s":"mw","g":3,"t":64,"v":6.31e-7},{"s":"mw","g":3,"t":65,"v":1.05e-6},{"s":"mw","g":3,"t":66,"v":9.55e-7},{"s":"mw","g":3,"t":67,"v":8.91e-7},{"s":"mw","g":3,"t":68,"v":1.2e-6},{"s":"mw","g":3,"t":69,"v":1.41e-6},{"s":"mw","g":3,"t":70,"v":1.51e-6},{"s":"mw","g":3,"t":71,"v":1.66e-6},{"s":"mw","g":3,"t":72,"v":1.91e-6},{"s":"mw","g":3,"t":73,"v":2.4e-6},{"s":"mw","g":3,"t":74,"v":2.4e-6},{"s":"mw","g":3,"t":75,"v":2.51e-6},{"s":"mw","g":3,"t":76,"v":2.09e-6},{"s":"mw","g":3,"t":77,"v":2.0e-6},{"s":"mw","g":3,"t":78,"v":2.63e-6},{"s":"mw","g":3,"t":79,"v":3.8e-6},{"s":"mw","g":3,"t":80,"v":4.17e-6},
{"s":"mh","g":1,"t":7.2,"v":5e-11},{"s":"mh","g":1,"t":7.8,"v":1.0e-9},{"s":"mh","g":1,"t":8.5,"v":5.01e-9},{"s":"mh","g":1,"t":9.5,"v":8.91e-9},{"s":"mh","g":1,"t":10.5,"v":1.12e-8},{"s":"mh","g":1,"t":11.5,"v":1.26e-8},{"s":"mh","g":1,"t":12.5,"v":1.32e-8},{"s":"mh","g":1,"t":13.5,"v":1.26e-8},{"s":"mh","g":1,"t":14.5,"v":1.41e-8},{"s":"mh","g":1,"t":15.5,"v":1.58e-8},{"s":"mh","g":1,"t":16.5,"v":1.78e-8},{"s":"mh","g":1,"t":17.5,"v":2.0e-8},{"s":"mh","g":1,"t":18.5,"v":2.24e-8},{"s":"mh","g":1,"t":19.5,"v":2.0e-8},{"s":"mh","g":1,"t":20.2,"v":1.58e-8},{"s":"mh","g":1,"t":20.8,"v":5.01e-9},{"s":"mh","g":1,"t":21.5,"v":1.26e-9},{"s":"mh","g":1,"t":22,"v":3.16e-10},{"s":"mh","g":1,"t":22.5,"v":5e-11},
{"s":"mh","g":2,"t":22.8,"v":5e-11},{"s":"mh","g":2,"t":22.8,"v":1.26e-9},{"s":"mh","g":2,"t":23.8,"v":1.26e-9},{"s":"mh","g":2,"t":23.8,"v":5e-11},
{"s":"mh","g":3,"t":26.5,"v":5e-11},{"s":"mh","g":3,"t":26.5,"v":1.0e-9},{"s":"mh","g":3,"t":27.3,"v":1.0e-9},{"s":"mh","g":3,"t":27.3,"v":5e-11},
{"s":"mh","g":4,"t":28.5,"v":5e-11},{"s":"mh","g":4,"t":28.5,"v":2.51e-9},{"s":"mh","g":4,"t":30,"v":2.51e-9},{"s":"mh","g":4,"t":30,"v":5e-11}
],
"invB": [
{"s":"ch","g":1,"t":7.8,"v":5e-11},{"s":"ch","g":1,"t":8.3,"v":3.16e-10},{"s":"ch","g":1,"t":8.8,"v":2.0e-9},{"s":"ch","g":1,"t":9.5,"v":4.47e-9},{"s":"ch","g":1,"t":10.5,"v":5.62e-9},{"s":"ch","g":1,"t":11.5,"v":7.08e-9},{"s":"ch","g":1,"t":12.5,"v":8.91e-9},{"s":"ch","g":1,"t":13.5,"v":1.0e-8},{"s":"ch","g":1,"t":14.5,"v":1.12e-8},{"s":"ch","g":1,"t":15.5,"v":1.26e-8},{"s":"ch","g":1,"t":16.5,"v":1.12e-8},{"s":"ch","g":1,"t":17.5,"v":1.0e-8},{"s":"ch","g":1,"t":18.5,"v":8.91e-9},{"s":"ch","g":1,"t":19.5,"v":7.94e-9},{"s":"ch","g":1,"t":20.5,"v":7.08e-9},{"s":"ch","g":1,"t":21.5,"v":6.31e-9},{"s":"ch","g":1,"t":22.5,"v":5.62e-9},{"s":"ch","g":1,"t":23.5,"v":5.01e-9},{"s":"ch","g":1,"t":24.5,"v":3.55e-9},{"s":"ch","g":1,"t":25.5,"v":2.0e-9},{"s":"ch","g":1,"t":26.3,"v":6.31e-10},{"s":"ch","g":1,"t":26.8,"v":5e-11},
{"s":"ch","g":2,"t":30.8,"v":5e-11},{"s":"ch","g":2,"t":30.8,"v":1.26e-9},{"s":"ch","g":2,"t":31.8,"v":1.26e-9},{"s":"ch","g":2,"t":31.8,"v":5e-11},
{"s":"ch","g":3,"t":42.2,"v":5e-11},{"s":"ch","g":3,"t":42.2,"v":2.51e-10},{"s":"ch","g":3,"t":43,"v":2.51e-10},{"s":"ch","g":3,"t":43,"v":5e-11},
{"s":"ch","g":4,"t":51.5,"v":5e-11},{"s":"ch","g":4,"t":51.5,"v":2.0e-9},{"s":"ch","g":4,"t":52.5,"v":2.0e-9},{"s":"ch","g":4,"t":52.5,"v":5e-11},
{"s":"ch","g":5,"t":74.5,"v":5e-11},{"s":"ch","g":5,"t":74.5,"v":7.94e-9},{"s":"ch","g":5,"t":76.3,"v":7.94e-9},{"s":"ch","g":5,"t":76.3,"v":5e-11},
{"s":"wh","t":0,"v":5e-11},{"s":"wh","t":0.1,"v":3.16e-7},{"s":"wh","t":0.4,"v":6.31e-8},{"s":"wh","t":1,"v":2.51e-8},{"s":"wh","t":2,"v":2.0e-8},{"s":"wh","t":3,"v":2.24e-8},{"s":"wh","t":4,"v":2.0e-8},{"s":"wh","t":5,"v":1.91e-8},{"s":"wh","t":6,"v":1.78e-8},{"s":"wh","t":7,"v":2.0e-8},{"s":"wh","t":8,"v":1.78e-8},{"s":"wh","t":9,"v":1.91e-8},{"s":"wh","t":10,"v":1.78e-8},{"s":"wh","t":11,"v":1.66e-8},{"s":"wh","t":12,"v":1.78e-8},{"s":"wh","t":13,"v":1.58e-8},{"s":"wh","t":14,"v":1.51e-8},{"s":"wh","t":15,"v":1.58e-8},{"s":"wh","t":16,"v":1.41e-8},{"s":"wh","t":17,"v":1.32e-8},{"s":"wh","t":18,"v":1.41e-8},{"s":"wh","t":19,"v":1.26e-8},{"s":"wh","t":20,"v":1.2e-8},{"s":"wh","t":21,"v":1.12e-8},{"s":"wh","t":22,"v":1.05e-8},{"s":"wh","t":23,"v":1.0e-8},{"s":"wh","t":24,"v":9.33e-9},{"s":"wh","t":25,"v":8.91e-9},{"s":"wh","t":26,"v":8.32e-9},{"s":"wh","t":27,"v":7.94e-9},{"s":"wh","t":28,"v":7.59e-9},{"s":"wh","t":29,"v":7.94e-9},{"s":"wh","t":30,"v":7.08e-9},{"s":"wh","t":31,"v":7.59e-9},{"s":"wh","t":32,"v":6.61e-9},{"s":"wh","t":33,"v":6.31e-9},{"s":"wh","t":34,"v":6.61e-9},{"s":"wh","t":35,"v":7.08e-9},{"s":"wh","t":36,"v":6.31e-9},{"s":"wh","t":37,"v":5.25e-9},{"s":"wh","t":38,"v":4.47e-9},{"s":"wh","t":39,"v":3.98e-9},{"s":"wh","t":40,"v":3.63e-9},{"s":"wh","t":41,"v":3.98e-9},{"s":"wh","t":42,"v":4.17e-9},{"s":"wh","t":43,"v":3.8e-9},{"s":"wh","t":44,"v":4.37e-9},{"s":"wh","t":45,"v":3.55e-9},{"s":"wh","t":46,"v":2.82e-9},{"s":"wh","t":47,"v":2.51e-9},{"s":"wh","t":48,"v":2.24e-9},{"s":"wh","t":49,"v":2.51e-9},{"s":"wh","t":50,"v":2.4e-9},{"s":"wh","t":51,"v":2.82e-9},{"s":"wh","t":52,"v":3.98e-9},{"s":"wh","t":53,"v":4.37e-9},{"s":"wh","t":54,"v":3.98e-9},{"s":"wh","t":55,"v":3.16e-9},{"s":"wh","t":56,"v":2.4e-9},{"s":"wh","t":57,"v":2.0e-9},{"s":"wh","t":58,"v":1.78e-9},{"s":"wh","t":59,"v":1.91e-9},{"s":"wh","t":60,"v":1.58e-9},{"s":"wh","t":61,"v":1.41e-9},{"s":"wh","t":62,"v":1.58e-9},{"s":"wh","t":63,"v":1.26e-9},{"s":"wh","t":64,"v":1.12e-9},{"s":"wh","t":65,"v":1.0e-9},{"s":"wh","t":66,"v":1.12e-9},{"s":"wh","t":67,"v":8.91e-10},{"s":"wh","t":68,"v":1.0e-9},{"s":"wh","t":69,"v":1.0e-9},{"s":"wh","t":70,"v":1.07e-9},{"s":"wh","t":71,"v":1.12e-9},{"s":"wh","t":72,"v":1.26e-9},{"s":"wh","t":73,"v":1.2e-9},{"s":"wh","t":74,"v":1.0e-9},{"s":"wh","t":75,"v":7.94e-10},{"s":"wh","t":76,"v":6.31e-10},{"s":"wh","t":77,"v":7.08e-10},{"s":"wh","t":78,"v":5.62e-10},{"s":"wh","t":79,"v":3.98e-10},{"s":"wh","t":80,"v":3.16e-10}
]
},
"resolve": {"scale": {"x": "independent", "y": "independent"}, "axis": {"x": "independent", "y": "independent"}},
"layer": [
{
 "data": {"name": "invA"},
 "mark": {"type": "line", "clip": true, "strokeWidth": 1, "opacity": 0.55},
 "encoding": {
  "x": {"field": "t", "type": "quantitative", "scale": {"domain": [0, 80], "nice": false, "zero": false},
        "axis": {"orient": "bottom", "values": [0,10,20,30,40,50,60,70,80], "ticks": false, "labelPadding": 2, "title": "t (Myr)", "titlePadding": 3}},
  "y": {"field": "v", "type": "quantitative", "scale": {"type": "log", "domain": [1e-10, 4.71e-5], "nice": false},
        "axis": {"orient": "left", "values": [1e-10,1e-9,1e-8,1e-7,1e-6,1e-5], "ticks": false, "labelPadding": 3, "labelBaseline": "middle",
                 "labelExpr": "{'-5':'10⁻⁵','-6':'10⁻⁶','-7':'10⁻⁷','-8':'10⁻⁸','-9':'10⁻⁹','-10':'10⁻¹⁰'}['' + round(log(datum.value)/LN10)]",
                 "title": "X\u0307 (yr⁻¹)", "titleFont": "DejaVu Serif", "titleFontSize": 12, "titlePadding": 6}},
  "stroke": {"field": "s", "type": "nominal", "scale": {"domain": ["mc","cw","mw","mh"], "range": ["#0000ff","#008000","#ff0000","#00bfbf"]}},
  "strokeDash": {"datum": "inverse transitions", "scale": {"domain": ["inverse transitions"], "range": [[1, 1.6]]},
                 "legend": {"orient": "none", "legendX": 136, "legendY": 32.6, "title": null, "symbolType": "stroke", "symbolSize": 289, "symbolStrokeWidth": 1, "symbolStrokeColor": "#888888", "symbolOpacity": 1, "clipHeight": 13.3, "rowPadding": 0, "labelOffset": 4, "padding": 0}},
  "detail": {"field": "g"},
  "order": {"value": null}
 }
},
{
 "data": {"name": "invB"},
 "mark": {"type": "line", "clip": true, "strokeWidth": 1, "opacity": 0.55},
 "encoding": {
  "x": {"field": "t", "type": "quantitative", "scale": {"domain": [0, 80], "nice": false, "zero": false},
        "axis": {"orient": "bottom", "values": [0,10,20,30,40,50,60,70,80], "labels": false, "tickSize": -5, "title": null}},
  "y": {"field": "v", "type": "quantitative", "scale": {"type": "log", "domain": [1e-10, 4.71e-5], "nice": false},
        "axis": {"orient": "left", "values": [1e-10,1e-9,1e-8,1e-7,1e-6,1e-5], "labels": false, "tickSize": -5, "title": null}},
  "color": {"field": "s", "type": "nominal", "scale": {"domain": ["ch","wh"], "range": ["#bf00bf","#bfbf00"]}},
  "strokeDash": {"datum": "inverse transitions", "scale": {"domain": ["inverse transitions"], "range": [[1, 1.6]]}},
  "detail": {"field": "g"},
  "order": {"value": null}
 }
},
{
 "data": {"name": "fwdA"},
 "mark": {"type": "line", "clip": true, "strokeWidth": 1.3},
 "encoding": {
  "x": {"field": "t", "type": "quantitative", "scale": {"domain": [0, 80], "nice": false, "zero": false},
        "axis": {"orient": "bottom", "values": [2,4,6,8,12,14,16,18,22,24,26,28,32,34,36,38,42,44,46,48,52,54,56,58,62,64,66,68,72,74,76,78], "labels": false, "tickSize": -2.5, "title": null}},
  "y": {"field": "v", "type": "quantitative", "scale": {"type": "log", "domain": [1e-10, 4.71e-5], "nice": false},
        "axis": {"orient": "left", "values": [2e-10,3e-10,4e-10,5e-10,6e-10,7e-10,8e-10,9e-10,2e-9,3e-9,4e-9,5e-9,6e-9,7e-9,8e-9,9e-9,2e-8,3e-8,4e-8,5e-8,6e-8,7e-8,8e-8,9e-8,2e-7,3e-7,4e-7,5e-7,6e-7,7e-7,8e-7,9e-7,2e-6,3e-6,4e-6,5e-6,6e-6,7e-6,8e-6,9e-6,2e-5,3e-5,4e-5], "labels": false, "tickSize": -2.5, "title": null}},
  "stroke": {"field": "s", "type": "nominal", "scale": {"domain": ["mc","cw","mw","mh"], "range": ["#0000ff","#008000","#ff0000","#00bfbf"]},
             "legend": {"orient": "none", "legendX": 7, "legendY": 6, "title": null, "symbolType": "stroke", "symbolSize": 289, "symbolStrokeWidth": 1.5, "symbolOpacity": 1, "symbolDash": [1, 0], "clipHeight": 13.3, "rowPadding": 0, "labelOffset": 4, "padding": 0,
                        "labelExpr": "{'mc':'molecular → cold','cw':'cold → warm','mw':'molecular → warm','mh':'molecular → hot'}[datum.label]"}},
  "detail": {"field": "g"},
  "order": {"value": null}
 }
},
{
 "data": {"name": "fwdB"},
 "mark": {"type": "line", "clip": true, "strokeWidth": 1.3},
 "encoding": {
  "x": {"field": "t", "type": "quantitative", "scale": {"domain": [0, 80], "nice": false, "zero": false},
        "axis": {"orient": "top", "values": [0,10,20,30,40,50,60,70,80], "labels": false, "tickSize": -5, "title": null}},
  "y": {"field": "v", "type": "quantitative", "scale": {"type": "log", "domain": [1e-10, 4.71e-5], "nice": false}, "axis": null},
  "color": {"field": "s", "type": "nominal", "scale": {"domain": ["ch","wh"], "range": ["#bf00bf","#bfbf00"]},
            "legend": {"orient": "none", "legendX": 136, "legendY": 6, "title": null, "symbolType": "stroke", "symbolSize": 289, "symbolStrokeWidth": 1.5, "symbolOpacity": 1, "symbolDash": [1, 0], "clipHeight": 13.3, "rowPadding": 0, "labelOffset": 4, "padding": 0,
                       "labelExpr": "{'ch':'cold → hot','wh':'warm → hot'}[datum.label]"}},
  "detail": {"field": "g"},
  "order": {"value": null}
 }
},
{
 "data": {"values": [{"t": 40, "r": 1e-8}]},
 "mark": {"type": "point", "opacity": 0},
 "encoding": {
  "x": {"field": "t", "type": "quantitative", "scale": {"domain": [0, 80], "nice": false, "zero": false},
        "axis": {"orient": "top", "values": [2,4,6,8,12,14,16,18,22,24,26,28,32,34,36,38,42,44,46,48,52,54,56,58,62,64,66,68,72,74,76,78], "labels": false, "tickSize": -2.5, "title": null}},
  "y": {"field": "r", "type": "quantitative", "scale": {"type": "log", "domain": [5.79e-12, 2.73e-6], "nice": false},
        "axis": {"orient": "right", "values": [1e-11,1e-10,1e-9,1e-8,1e-7,1e-6], "ticks": false, "labelPadding": 3, "labelBaseline": "middle",
                 "labelExpr": "{'-6':'10⁻⁶','-7':'10⁻⁷','-8':'10⁻⁸','-9':'10⁻⁹','-10':'10⁻¹⁰','-11':'10⁻¹¹'}['' + round(log(datum.value)/LN10)]",
                 "title": "Σ\u0307d (M⊙ Gyr⁻¹ pc⁻²)", "titleFont": "DejaVu Serif", "titleFontSize": 11.5, "titleAngle": 270, "titlePadding": 4}}
 }
},
{
 "data": {"values": [{"t": 40, "r": 1e-8}]},
 "mark": {"type": "point", "opacity": 0},
 "encoding": {
  "x": {"field": "t", "type": "quantitative", "scale": {"domain": [0, 80], "nice": false, "zero": false}, "axis": null},
  "y": {"field": "r", "type": "quantitative", "scale": {"type": "log", "domain": [5.79e-12, 2.73e-6], "nice": false},
        "axis": {"orient": "right", "values": [1e-11,1e-10,1e-9,1e-8,1e-7,1e-6], "labels": false, "tickSize": -5, "title": null}}
 }
},
{
 "data": {"values": [{"t": 40, "r": 1e-8}]},
 "mark": {"type": "point", "opacity": 0},
 "encoding": {
  "x": {"field": "t", "type": "quantitative", "scale": {"domain": [0, 80], "nice": false, "zero": false}, "axis": null},
  "y": {"field": "r", "type": "quantitative", "scale": {"type": "log", "domain": [5.79e-12, 2.73e-6], "nice": false},
        "axis": {"orient": "right", "values": [6e-12,7e-12,8e-12,9e-12,2e-11,3e-11,4e-11,5e-11,6e-11,7e-11,8e-11,9e-11,2e-10,3e-10,4e-10,5e-10,6e-10,7e-10,8e-10,9e-10,2e-9,3e-9,4e-9,5e-9,6e-9,7e-9,8e-9,9e-9,2e-8,3e-8,4e-8,5e-8,6e-8,7e-8,8e-8,9e-8,2e-7,3e-7,4e-7,5e-7,6e-7,7e-7,8e-7,9e-7,2e-6], "labels": false, "tickSize": -2.5, "title": null}}
 }
}
]
}
